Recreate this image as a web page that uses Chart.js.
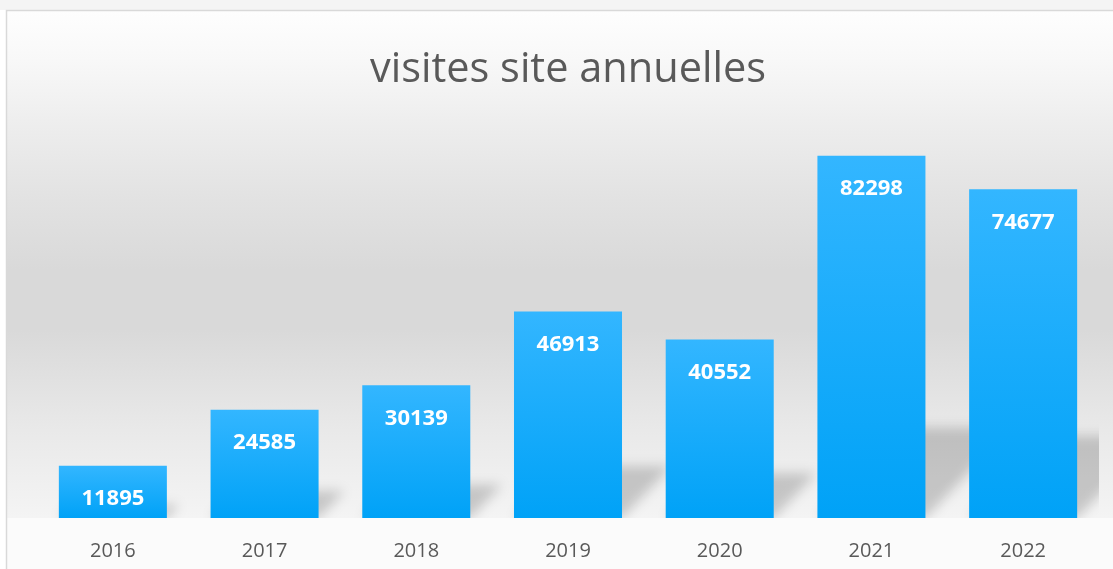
<!DOCTYPE html>
<html>
<head>
<meta charset="utf-8">
<script src="https://cdn.jsdelivr.net/npm/chart.js@4"></script>
<style>
html,body{margin:0;padding:0;background:#ffffff;}
#wrap{width:1113px;height:569px;position:relative;}
</style>
</head>
<body>
<div id="wrap"><canvas id="c"></canvas></div>
<script>
const years = ['2016','2017','2018','2019','2020','2021','2022'];
const visits = [11895, 24585, 30139, 46913, 40552, 82298, 74677];
const chartTitle = 'visites site annuelles';
const yMax = 90000;

const backgroundPlugin = {
  id: 'bgPlugin',
  beforeDraw(chart) {
    const ctx = chart.ctx;
    const W = chart.width, H = chart.height;
    const base = chart.scales.y.getPixelForValue(0);
    ctx.save();
    ctx.fillStyle = '#ffffff';
    ctx.fillRect(0, 0, W, H);
    ctx.fillStyle = '#f4f4f4';
    ctx.fillRect(0, 0, W, 10);
    const g = ctx.createLinearGradient(0, 10, 0, base);
    g.addColorStop(0, '#fefefe');
    g.addColorStop(50 / (base - 10), '#f8f8f8');
    g.addColorStop(110 / (base - 10), '#eeeeee');
    g.addColorStop(190 / (base - 10), '#e2e2e2');
    g.addColorStop(260 / (base - 10), '#d9d9d9');
    g.addColorStop(320 / (base - 10), '#d9d9d9');
    g.addColorStop(420 / (base - 10), '#e9e9e9');
    g.addColorStop(1, '#f4f4f4');
    ctx.fillStyle = g;
    ctx.fillRect(7, 11, W - 7, base - 11);
    ctx.fillStyle = '#fbfbfb';
    ctx.fillRect(7, base, W - 7, H - base);
    ctx.strokeStyle = '#d9d9d9';
    ctx.lineWidth = 1.5;
    ctx.beginPath();
    ctx.moveTo(W, 10.5);
    ctx.lineTo(6.5, 10.5);
    ctx.lineTo(6.5, H);
    ctx.stroke();
    ctx.restore();
  },
  beforeDatasetsDraw(chart) {
    const ctx = chart.ctx;
    const area = chart.chartArea;
    const meta = chart.getDatasetMeta(0);
    ctx.save();
    ctx.beginPath();
    ctx.rect(area.left, area.top - 200, area.right - area.left, area.bottom - area.top + 200);
    ctx.clip();
    ctx.filter = 'blur(6px)';
    ctx.fillStyle = 'rgba(0,0,0,0.18)';
    meta.data.forEach(bar => {
      const x0 = bar.x - bar.width / 2;
      const x1 = bar.x + bar.width / 2;
      const b = bar.base;
      const h = b - bar.y;
      const sh = h * 0.25;
      const dx = sh * 0.95;
      ctx.beginPath();
      ctx.moveTo(x0, b);
      ctx.lineTo(x1, b);
      ctx.lineTo(x1 + dx, b - sh);
      ctx.lineTo(x0 + dx, b - sh);
      ctx.closePath();
      ctx.fill();
    });
    ctx.restore();
  },
  afterDatasetsDraw(chart) {
    const ctx = chart.ctx;
    const meta = chart.getDatasetMeta(0);
    const data = chart.data.datasets[0].data;
    ctx.save();
    ctx.fillStyle = '#ffffff';
    ctx.font = 'bold 22px "Open Sans"';
    ctx.textAlign = 'center';
    ctx.textBaseline = 'middle';
    meta.data.forEach((bar, i) => {
      ctx.fillText(String(data[i]), bar.x, bar.y + 33);
    });
    ctx.restore();
  }
};

new Chart(document.getElementById('c'), {
  type: 'bar',
  data: {
    labels: years,
    datasets: [{
      data: visits,
      borderWidth: 0,
      categoryPercentage: 1,
      barPercentage: 0.712,
      backgroundColor: (c) => {
        const chart = c.chart;
        if (!chart.chartArea || c.raw === undefined) return '#1aabfc';
        const ys = chart.scales.y;
        const top = ys.getPixelForValue(c.raw);
        const base = ys.getPixelForValue(0);
        const g = chart.ctx.createLinearGradient(0, top, 0, base);
        g.addColorStop(0, '#33b6ff');
        g.addColorStop(1, '#00a2f7');
        return g;
      }
    }]
  },
  options: {
    responsive: true,
    maintainAspectRatio: false,
    animation: false,
    events: [],
    layout: { padding: { left: 37, right: 14, top: 0, bottom: -15 } },
    plugins: {
      legend: { display: false },
      tooltip: { enabled: false },
      title: {
        display: true,
        text: chartTitle,
        color: '#595959',
        font: { family: '"Open Sans"', size: 41.5, weight: 'normal', lineHeight: 1.2 },
        padding: { top: 45, bottom: 27 }
      }
    },
    scales: {
      x: {
        grid: { display: false, drawTicks: false },
        border: { display: false },
        ticks: { color: '#595959', font: { family: '"Open Sans"', size: 20 }, padding: 21 }
      },
      y: {
        display: false,
        min: 0,
        max: yMax
      }
    }
  },
  plugins: [backgroundPlugin]
});
</script>
</body>
</html>
